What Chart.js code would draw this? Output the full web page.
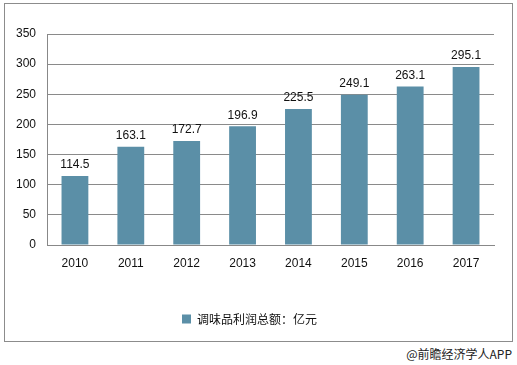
<!DOCTYPE html>
<html>
<head>
<meta charset="utf-8">
<script src="https://cdn.jsdelivr.net/npm/chart.js@4.4.0/dist/chart.umd.min.js"></script>
<style>
  body { margin: 0; background: #fff; width: 517px; height: 365px; position: relative; overflow: hidden; }
  #box { position: absolute; left: 4px; top: 3px; width: 507px; height: 337px; border: 1px solid #8c8c8c; }
  #wrap { position: absolute; left: 0; top: 0; width: 507px; height: 337px; }
  #credit { position: absolute; right: 5px; top: 345px; font: 12px "Noto Sans CJK SC", sans-serif; color: #222; }
</style>
</head>
<body>
<div id="box"><div id="wrap"><canvas id="myChart"></canvas></div></div>
<div id="credit">@前瞻经济学人APP</div>
<script>
var years = ["2010", "2011", "2012", "2013", "2014", "2015", "2016", "2017"];
var profit = [114.5, 163.1, 172.7, 196.9, 225.5, 249.1, 263.1, 295.1];
var seriesName = "调味品利润总额：亿元";

var labelPlugin = {
  id: "barLabels",
  afterDatasetsDraw: function(chart) {
    var ctx = chart.ctx;
    var meta = chart.getDatasetMeta(0);
    ctx.save();
    ctx.font = "12px 'Liberation Sans', Arial, sans-serif";
    ctx.fillStyle = "#111";
    ctx.textAlign = "center";
    ctx.textBaseline = "bottom";
    meta.data.forEach(function(bar, i) {
      ctx.fillText(profit[i].toFixed(1), bar.x, bar.y - 5);
    });
    ctx.restore();
  }
};

window.onload = function() {
  const ctx = document.getElementById("myChart").getContext("2d");
  var chart = new Chart(ctx, {
    type: "bar",
    data: {
      labels: years,
      datasets: [
        {
          label: seriesName,
          backgroundColor: "#5b8fa7",
          data: profit,
          barPercentage: 0.48,
          categoryPercentage: 1
        }
      ]
    },
    options: {
      responsive: true,
      maintainAspectRatio: false,
      animation: false,
      layout: { padding: { top: 30, right: 18, left: 0, bottom: 6 } },
      plugins: {
        tooltip: { enabled: false },
        legend: {
          position: "bottom",
          labels: {
            boxWidth: 9,
            boxHeight: 9,
            padding: 18,
            color: "#111",
            font: { size: 12, family: "'Noto Sans CJK SC', sans-serif" }
          }
        }
      },
      scales: {
        x: {
          grid: { display: false, drawTicks: false },
          border: { color: "#888" },
          ticks: { color: "#111", padding: 11, font: { size: 12, family: "'Liberation Sans', Arial, sans-serif" } },
          afterFit: function(scale) { scale.height = 50; }
        },
        y: {
          min: 0,
          max: 350,
          ticks: { stepSize: 50, color: "#111", padding: 11, font: { size: 12, family: "'Liberation Sans', Arial, sans-serif" } },
          grid: { color: "#8a8a8a", drawTicks: false },
          border: { color: "#888" },
          afterFit: function(scale) { scale.width = 42; }
        }
      }
    },
    plugins: [labelPlugin]
  });
};
</script>
</body>
</html>
